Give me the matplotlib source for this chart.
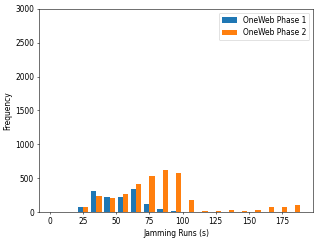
import numpy as np
import matplotlib
matplotlib.use("Agg")
import matplotlib.pyplot as plt

bin_edges = list(range(0, 200, 10))
phase1 = [0, 0, 80, 310, 230, 220, 335, 115, 45, 15, 0, 0, 0, 0, 0, 0, 0, 0, 0]
phase2 = [0, 0, 75, 240, 210, 265, 410, 530, 625, 570, 180, 15, 15, 25, 15, 28, 70, 75, 100]
labels = ["OneWeb Phase 1", "OneWeb Phase 2"]

plt.rcParams["font.size"] = 10.8

edges = np.array(bin_edges)
lefts = edges[:-1] + 1

fig = plt.figure(figsize=(6.38, 4.82), dpi=50)
ax = fig.add_axes([0.122, 0.120, 0.859, 0.843])
ax.hist([lefts, lefts], bins=edges, weights=[phase1, phase2], label=labels,
        color=["#1f77b4", "#ff7f0e"])
ax.set_ylim(0, 3000)
ax.set_xlabel("Jamming Runs (s)")
ax.set_ylabel("Frequency")
ax.legend(loc="upper right")
fig.savefig("out.png", dpi=50)
